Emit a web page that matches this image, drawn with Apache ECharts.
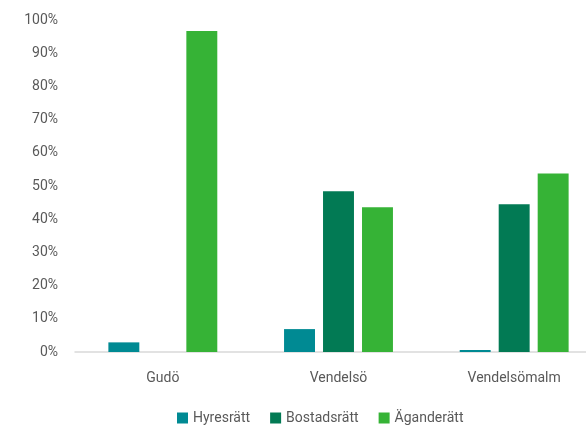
<!DOCTYPE html>
<html>
<head>
<meta charset="utf-8">
<script src="https://cdn.jsdelivr.net/npm/echarts@6/dist/echarts.min.js"></script>
<style>
  html, body { margin: 0; padding: 0; background: #fff; }
  #chart { width: 586px; height: 425px; }
</style>
</head>
<body>
<div id="chart"></div>
<script>
// data (percent)
const areas = ['Gudö', 'Vendelsö', 'Vendelsömalm'];
const hyresratt = [2.9, 6.9, 0.6];
const bostadsratt = [0, 48.4, 44.5];
const aganderatt = [96.7, 43.6, 53.8];

const chart = echarts.init(document.getElementById('chart'));
const font = 'Roboto';
const textColor = '#595959';

chart.setOption({
  animation: false,
  textStyle: { fontFamily: font },
  // the original plot runs past the right edge of the picture
  grid: { left: 75, top: 20, bottom: 73, width: 527, outerBoundsMode: 'none', containLabel: false },
  legend: {
    top: 406,
    left: 172,
    itemWidth: 11,
    itemHeight: 11,
    itemGap: 20,
    icon: 'rect',
    textStyle: { color: textColor, fontSize: 14, fontFamily: font },
    data: ['Hyresrätt', 'Bostadsrätt', 'Äganderätt']
  },
  xAxis: {
    type: 'category',
    data: areas,
    axisLine: { lineStyle: { color: '#d9d9d9', width: 1.5 } },
    axisTick: { show: false },
    axisLabel: { color: textColor, fontSize: 14, margin: 19 }
  },
  yAxis: {
    type: 'value',
    min: 0,
    max: 100,
    interval: 10,
    splitLine: { show: false },
    axisLine: { show: false },
    axisTick: { show: false },
    axisLabel: { color: textColor, fontSize: 14, margin: 17, formatter: '{value}%' }
  },
  series: [
    { name: 'Hyresrätt', type: 'bar', data: hyresratt, itemStyle: { color: '#008a93' }, barGap: '26%', barCategoryGap: '38%' },
    { name: 'Bostadsrätt', type: 'bar', data: bostadsratt, itemStyle: { color: '#027a54' } },
    { name: 'Äganderätt', type: 'bar', data: aganderatt, itemStyle: { color: '#36b336' } }
  ]
});
</script>
</body>
</html>
